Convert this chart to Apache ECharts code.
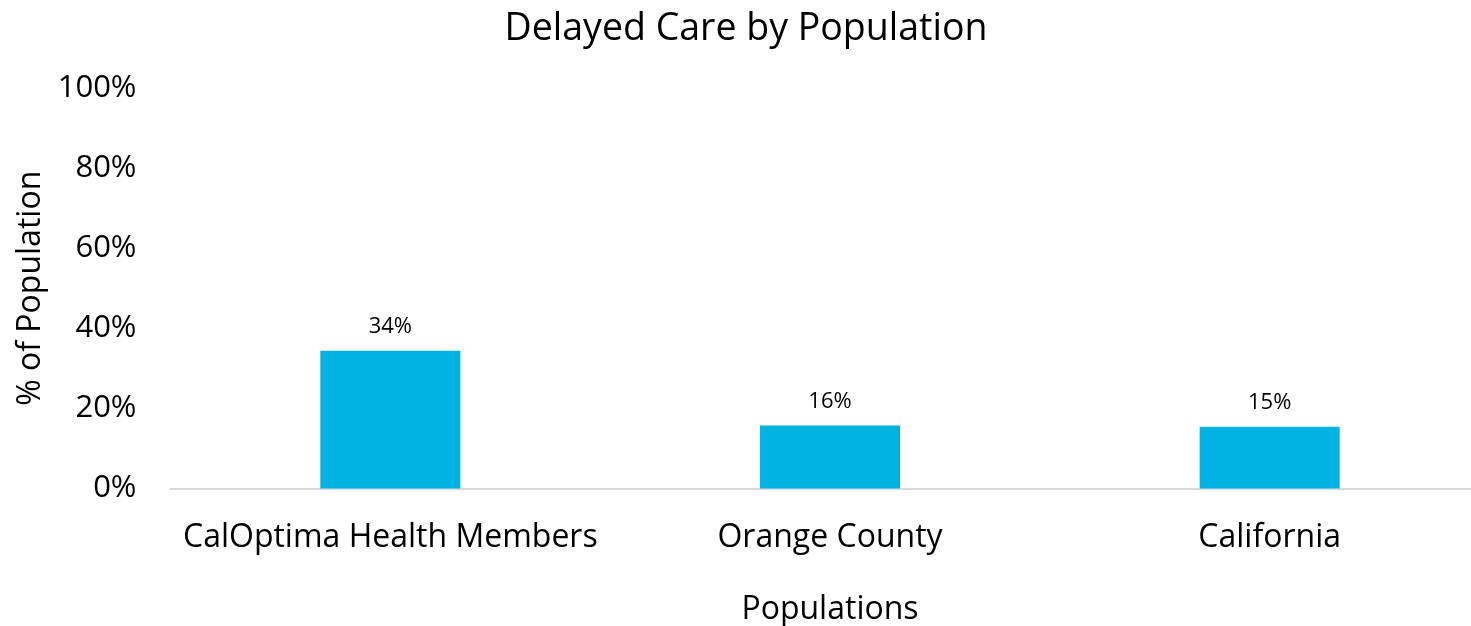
<!DOCTYPE html>
<html>
<head>
<meta charset="utf-8">
<script src="https://cdn.jsdelivr.net/npm/echarts@6/dist/echarts.min.js"></script>
<style>
html,body{margin:0;padding:0;background:#fff;overflow:hidden;}
#chart{width:1492px;height:626px;}
</style>
</head>
<body>
<div id="chart"></div>
<script>
const categories = ['CalOptima Health Members', 'Orange County', 'California'];
const values = [0.344, 0.157, 0.154];
const yTicks = [0, 0.2, 0.4, 0.6, 0.8, 1.0];

const FONT = '"Open Sans", "Noto Sans", sans-serif';
const chart = echarts.init(document.getElementById('chart'), null, {renderer: 'canvas'});
chart.setOption({
  animation: false,
  backgroundColor: '#ffffff',
  title: {
    text: 'Delayed Care by Population',
    left: 'center',
    top: 5,
    textStyle: {fontFamily: FONT, fontSize: 37.5, fontWeight: 'normal', color: '#000'}
  },
  grid: {left: 170.5, top: 88, width: 1319, bottom: 137.5, containLabel: false, outerBoundsMode: 'none'},
  xAxis: {
    type: 'category',
    data: categories,
    name: 'Populations',
    nameLocation: 'middle',
    nameGap: 105,
    nameTextStyle: {fontFamily: FONT, fontSize: 32, color: '#000'},
    axisLine: {show: true, lineStyle: {color: '#d9d9d9', width: 2}},
    axisTick: {show: false},
    axisLabel: {fontFamily: FONT, fontSize: 32, color: '#000', margin: 33, interval: 0}
  },
  yAxis: {
    type: 'value',
    min: 0, max: 1, interval: 0.2,
    name: '% of Population',
    nameLocation: 'middle',
    nameGap: 115,
    nameRotate: 90,
    nameTextStyle: {fontFamily: FONT, fontSize: 32, color: '#000'},
    axisLine: {show: false},
    axisTick: {show: false},
    splitLine: {show: false},
    axisLabel: {
      fontFamily: FONT, fontSize: 31, color: '#000', margin: 34,
      formatter: v => yTicks.includes(Math.round(v*10)/10) ? Math.round(v*100) + '%' : ''
    }
  },
  series: [{
    type: 'bar',
    data: values,
    barWidth: 140,
    itemStyle: {color: '#00B3E3'},
    label: {
      show: true, position: 'top', distance: 13,
      fontFamily: FONT, fontSize: 22, color: '#000',
      formatter: p => Math.round(p.value*100) + '%'
    }
  }]
});
</script>
</body>
</html>
